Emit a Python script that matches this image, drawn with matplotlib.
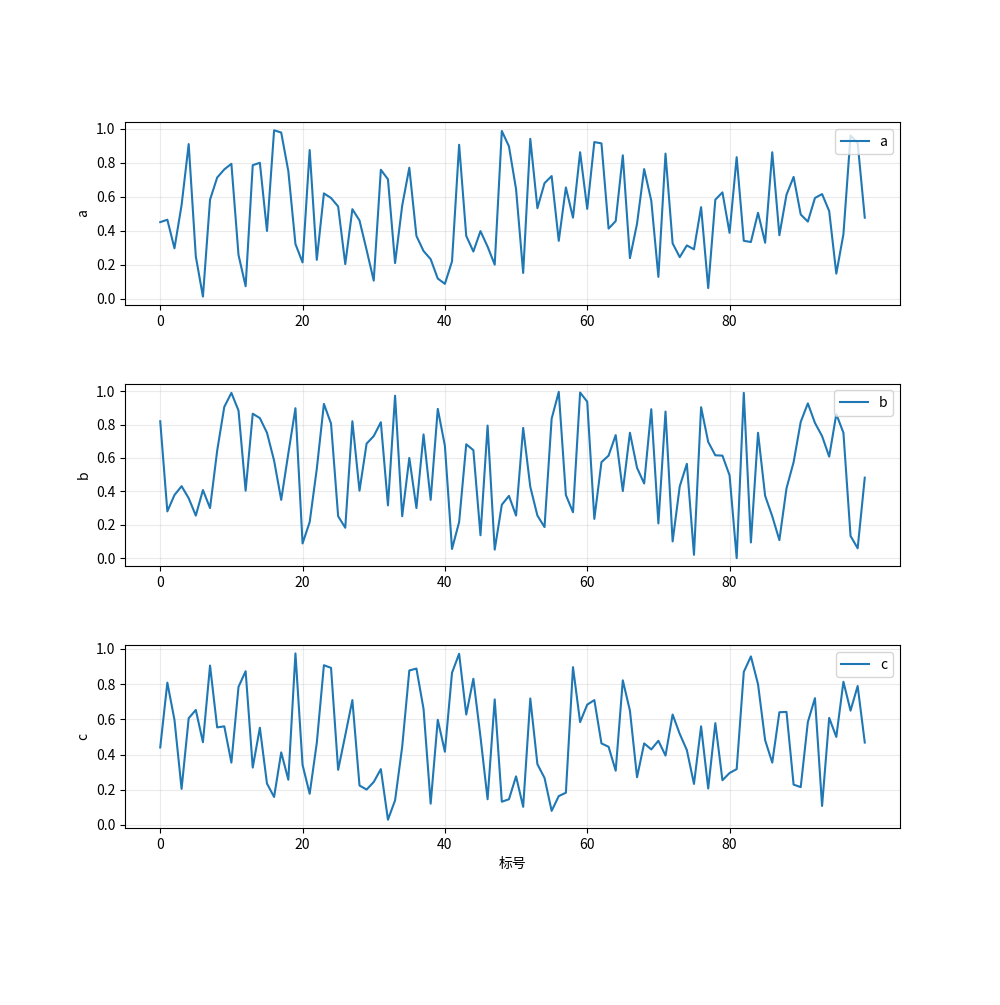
import matplotlib
matplotlib.use("Agg")
import matplotlib.pyplot as plt
import numpy as np

plt.rcParams['font.family'] = ['Noto Sans CJK SC', 'DejaVu Sans']
plt.rcParams['axes.unicode_minus'] = False

a = [0.45, 0.464, 0.296, 0.55, 0.909, 0.248, 0.012, 0.582, 0.712, 0.76,
     0.793, 0.257, 0.073, 0.785, 0.799, 0.398, 0.99, 0.977, 0.75, 0.321,
     0.213, 0.874, 0.228, 0.619, 0.592, 0.542, 0.203, 0.526, 0.46, 0.286,
     0.106, 0.758, 0.702, 0.209, 0.547, 0.77, 0.369, 0.28, 0.232, 0.118,
     0.087, 0.219, 0.905, 0.369, 0.277, 0.397, 0.306, 0.2, 0.986, 0.896,
     0.644, 0.151, 0.94, 0.532, 0.679, 0.721, 0.34, 0.654, 0.476, 0.861,
     0.528, 0.921, 0.913, 0.412, 0.456, 0.843, 0.238, 0.441, 0.762, 0.576,
     0.128, 0.853, 0.325, 0.244, 0.313, 0.29, 0.538, 0.062, 0.582, 0.625,
     0.387, 0.832, 0.34, 0.333, 0.505, 0.329, 0.861, 0.373, 0.611, 0.716,
     0.495, 0.453, 0.592, 0.615, 0.515, 0.147, 0.379, 0.959, 0.915, 0.476]

b = [0.82, 0.28, 0.378, 0.431, 0.359, 0.255, 0.408, 0.3, 0.643, 0.906,
     0.99, 0.884, 0.404, 0.865, 0.839, 0.751, 0.584, 0.349, 0.627, 0.898,
     0.088, 0.216, 0.535, 0.924, 0.806, 0.251, 0.182, 0.82, 0.404, 0.686,
     0.731, 0.814, 0.316, 0.973, 0.251, 0.6, 0.3, 0.741, 0.349, 0.894,
     0.673, 0.055, 0.216, 0.682, 0.647, 0.137, 0.794, 0.051, 0.32, 0.373,
     0.255, 0.78, 0.427, 0.255, 0.186, 0.835, 0.996, 0.378, 0.275, 0.992,
     0.937, 0.235, 0.575, 0.614, 0.737, 0.402, 0.751, 0.541, 0.447, 0.892,
     0.208, 0.878, 0.1, 0.43, 0.565, 0.02, 0.904, 0.696, 0.616, 0.614,
     0.496, 0.0, 0.99, 0.094, 0.751, 0.373, 0.251, 0.108, 0.418, 0.575,
     0.816, 0.927, 0.81, 0.731, 0.608, 0.863, 0.751, 0.133, 0.059, 0.482]

c = [0.44, 0.808, 0.597, 0.205, 0.606, 0.653, 0.47, 0.905, 0.554, 0.56,
     0.354, 0.784, 0.873, 0.326, 0.552, 0.235, 0.159, 0.412, 0.257, 0.974,
     0.341, 0.177, 0.466, 0.907, 0.892, 0.313, 0.509, 0.709, 0.224, 0.201,
     0.244, 0.317, 0.03, 0.14, 0.444, 0.877, 0.888, 0.659, 0.121, 0.597,
     0.416, 0.864, 0.972, 0.627, 0.83, 0.5, 0.146, 0.713, 0.132, 0.146,
     0.276, 0.103, 0.718, 0.345, 0.267, 0.08, 0.164, 0.183, 0.896, 0.584,
     0.683, 0.709, 0.463, 0.444, 0.308, 0.821, 0.649, 0.271, 0.463, 0.429,
     0.478, 0.394, 0.627, 0.517, 0.425, 0.233, 0.56, 0.207, 0.578, 0.254,
     0.295, 0.317, 0.869, 0.957, 0.799, 0.481, 0.354, 0.64, 0.642, 0.229,
     0.215, 0.584, 0.72, 0.108, 0.608, 0.5, 0.813, 0.649, 0.789, 0.468]

series = [("a", a), ("b", b), ("c", c)]
xticks = [0, 20, 40, 60, 80]
xlabel = "标号"

fig, axes = plt.subplots(3, 1, figsize=(10, 10.05), dpi=100)
fig.subplots_adjust(left=0.125, right=0.9, top=1 - 122 / 1005,
                    bottom=1 - 828 / 1005, hspace=0.43)

for ax, (name, vals) in zip(axes, series):
    x = np.arange(len(vals))
    ax.plot(x, vals, color='#1f77b4', label=name)
    ax.set_ylabel(name)
    ax.set_xticks(xticks)
    ax.grid(True, alpha=0.25)
    ax.legend(loc='upper right')

axes[-1].set_xlabel(xlabel)

fig.savefig("out.png", dpi=100)
